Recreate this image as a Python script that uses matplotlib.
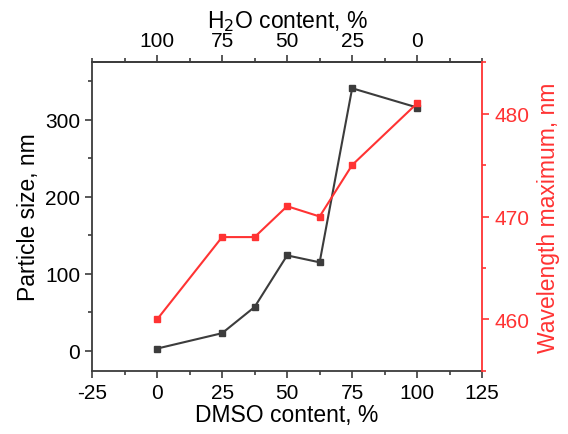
import matplotlib.pyplot as plt
from matplotlib.ticker import MultipleLocator

plt.rcParams['font.family'] = ['Liberation Sans', 'DejaVu Sans']
plt.rcParams['axes.unicode_minus'] = False

# DMSO content, %
dmso = [0, 25, 37.5, 50, 62.5, 75, 100]
# particle size, nm
size = [3, 23, 57, 124, 115, 341, 316]
# wavelength maximum, nm
wavelength = [460, 468, 468, 471, 470, 475, 481]

water_ticks = [100, 75, 50, 25, 0]

dark = '#3c3c3c'
red = '#ff3333'

fig = plt.figure(figsize=(5.68, 4.35), dpi=100)
ax = fig.add_axes([0.162, 0.145, 0.687, 0.71])

ax.plot(dmso, size, color=dark, marker='s', markersize=5, linewidth=1.5)
ax.set_xlim(-25, 125)
ax.set_ylim(-26, 375)
ax.set_xticks([-25, 0, 25, 50, 75, 100, 125])
ax.xaxis.set_minor_locator(MultipleLocator(12.5))
ax.set_yticks([0, 100, 200, 300])
ax.yaxis.set_minor_locator(MultipleLocator(50))
ax.set_xlabel('DMSO content, %', fontsize=16.5, labelpad=1)
ax.set_ylabel('Particle size, nm', fontsize=16.5, labelpad=4)
ax.tick_params(which='both', direction='out', labelsize=15, colors='black')
ax.tick_params(which='major', length=5, width=1.2, color=dark)
ax.tick_params(which='minor', length=3, width=1.2, color=dark)
for s in ['left', 'bottom', 'top']:
    ax.spines[s].set_color(dark)
    ax.spines[s].set_linewidth(1.3)
ax.spines['right'].set_visible(False)

# top axis: water content
top = ax.secondary_xaxis('top', functions=(lambda x: 100 - x, lambda x: 100 - x))
top.set_xticks(water_ticks)
top.xaxis.set_minor_locator(MultipleLocator(12.5))
top.set_xlabel(r'H$_2$O content, %', fontsize=16.5, labelpad=3)
top.tick_params(which='both', direction='out', labelsize=15, color=dark)
top.tick_params(which='major', length=5, width=1.2)
top.tick_params(which='minor', length=3, width=1.2)
top.spines['top'].set_color(dark)
top.spines['top'].set_linewidth(1.3)

# right axis: wavelength
ax2 = ax.twinx()
ax2.plot(dmso, wavelength, color=red, marker='s', markersize=5, linewidth=1.5)
ax2.set_ylim(455, 485)
ax2.set_yticks([460, 470, 480])
ax2.yaxis.set_minor_locator(MultipleLocator(5))
ax2.set_ylabel('Wavelength maximum, nm', fontsize=16.5, color=red, labelpad=6)
ax2.tick_params(which='both', direction='out', labelsize=15, colors=red, width=1.2)
ax2.tick_params(which='major', length=5)
ax2.tick_params(which='minor', length=3)
for s in ['left', 'bottom', 'top']:
    ax2.spines[s].set_visible(False)
ax2.spines['right'].set_color(red)
ax2.spines['right'].set_linewidth(1.3)

fig.savefig('out.png', dpi=100)
